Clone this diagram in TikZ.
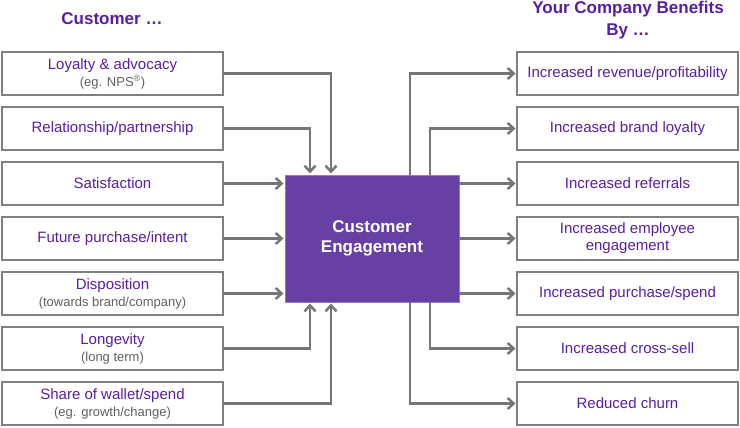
\documentclass[tikz,border=0pt]{standalone}
\usepackage{fontspec}
\setmainfont{Liberation Sans}
\usetikzlibrary{arrows.meta, positioning}

\definecolor{engpurple}{RGB}{103,64,163}
\definecolor{txtpurple}{RGB}{88,30,160}
\definecolor{linegray}{RGB}{118,118,118}
\definecolor{boxgray}{RGB}{128,128,128}
\definecolor{subgray}{RGB}{95,95,95}

\newcommand{\subtext}[1]{{\fontsize{13}{15}\selectfont\color{subgray}#1}}

\begin{document}
\begin{tikzpicture}[
    x=1pt, y=-1pt,
    node distance=12pt,
    factor/.style={rectangle, draw=boxgray, line width=1.6pt, outer sep=0pt, minimum height=43pt, minimum width=221pt, align=center, text=txtpurple, font=\fontsize{15}{17}\selectfont},
    engage/.style={rectangle, fill=engpurple, draw=engpurple!70!white, line width=0.8pt, outer sep=0pt, minimum height=127pt, minimum width=174pt, align=center, text=white, font=\bfseries\fontsize{17}{20}\selectfont},
    header/.style={align=center, text=txtpurple, font=\bfseries\fontsize{17}{22}\selectfont},
    arr/.style={draw=linegray, line width=2.5pt, shorten >=1.5pt, -{Straight Barb[length=6pt, width=11pt]}}
]
\useasboundingbox (0,0) rectangle (740,428);

% Nodes
\node [header] (cust-head) at (112,19) {Customer \ldots};
\node [header] (comp-head) at (628,20) {Your Company Benefits\\By \ldots};

\node [factor] (loyalty) at (112.5,73.5) {Loyalty \& advocacy\\\subtext{(eg. NPS\textsuperscript{®})}};
\node [factor, below=of loyalty] (relation) {Relationship/partnership};
\node [factor, below=of relation] (satisfy) {Satisfaction};
\node [factor, below=of satisfy] (future) {Future purchase/intent};
\node [factor, below=of future] (dispos) {Disposition\\\subtext{(towards brand/company)}};
\node [factor, below=of dispos] (longev) {Longevity\\\subtext{(long term)}};
\node [factor, below=of longev] (wallet) {Share of wallet/spend\\\subtext{(eg. growth/change)}};

\node [engage] (engagement) at (372,238.5) {Customer\\Engagement};

\node [factor] (revenue) at (627.5,73.5) {Increased revenue/profitability};
\node [factor, below=of revenue] (brand) {Increased brand loyalty};
\node [factor, below=of brand] (referral) {Increased referrals};
\node [factor, below=of referral] (employee) {Increased employee\\engagement};
\node [factor, below=of employee] (purchase) {Increased purchase/spend};
\node [factor, below=of purchase] (crosssell) {Increased cross-sell};
\node [factor, below=of crosssell] (churn) {Reduced churn};

% Arrows in
\draw[arr] (loyalty.east) -| ([xshift=-41pt]engagement.north);
\draw[arr] (relation.east) -| ([xshift=-62pt]engagement.north);
\draw[arr] (satisfy.east) -- (satisfy.east -| engagement.west);
\draw[arr] (future.east) -- (future.east -| engagement.west);
\draw[arr] (dispos.east) -- (dispos.east -| engagement.west);
\draw[arr] (longev.east) -| ([xshift=-62pt]engagement.south);
\draw[arr] (wallet.east) -| ([xshift=-41pt]engagement.south);

% Arrows out
\draw[arr] ([xshift=38pt]engagement.north) |- (revenue.west);
\draw[arr] ([xshift=58pt]engagement.north) |- (brand.west);
\draw[arr] (referral.west -| engagement.east) -- (referral.west);
\draw[arr] (employee.west -| engagement.east) -- (employee.west);
\draw[arr] (purchase.west -| engagement.east) -- (purchase.west);
\draw[arr] ([xshift=58pt]engagement.south) |- (crosssell.west);
\draw[arr] ([xshift=38pt]engagement.south) |- (churn.west);
\end{tikzpicture}
\end{document}
